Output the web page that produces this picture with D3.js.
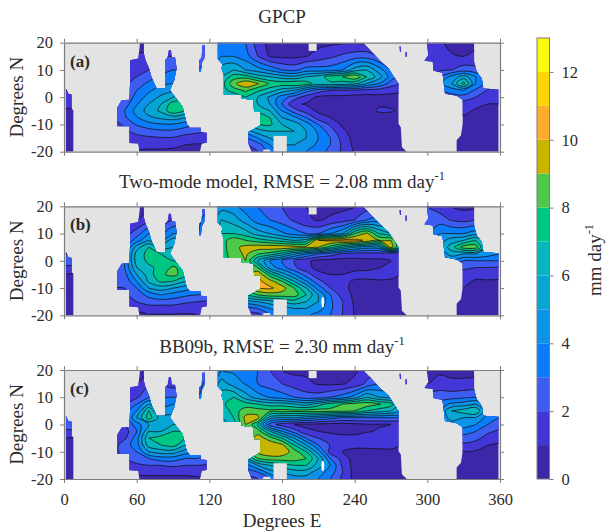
<!DOCTYPE html>
<html>
<head>
<meta charset="utf-8">
<script src="https://cdn.jsdelivr.net/npm/d3@7"></script>
<style>
  body { margin: 0; background: #fff; }
  text { font-family: "Liberation Serif", serif; fill: #2b2b2b; }
</style>
</head>
<body>
<div id="chart"></div>
<script>
'use strict'

// rows of every column below, north to south
var lats = [20, 15, 10, 7.5, 5, 2.5, 0, -2.5, -5, -7.5, -10, -12.5, -15, -17.5, -20];
// one line per longitude, 0 to 360 by 10 degrees
var lons = d3.range(0, 361, 10);

var gpcp = [
  [1, 1, 1, 1, 1.5, 2, 1.8, 1.4, .8, .6, .5, .5, .4, .4, .3],
  [1, 1, 1, 1, 1.5, 2, 1.8, 1.4, .8, .6, .5, .5, .4, .4, .3],
  [1, 1, 1, 1, 1, 1.2, 1.5, 1.5, 1.5, 1.5, 1.2, 1, 1, 1, 1],
  [1, 1, 1, 1, 1, 1.2, 1.5, 1.5, 1.5, 1.5, 1.2, 1, 1, 1, 1],
  [1, 1, 1, 1, 1, 1.2, 1.5, 1.8, 2, 2, 1.5, 1.5, 1.2, 1, 1],
  [.8, 1, 1.4, 1.5, 1.7, 1.9, 2.1, 2.5, 3, 2.8, 2.2, 1.8, 1.5, 1.2, 1],
  [.7, 1.1, 1.7, 2, 2.5, 3, 3.4, 3.9, 4.4, 3.9, 3.1, 2.3, 1.7, 1.3, .9],
  [.6, 1.2, 2, 2.6, 3.2, 3.8, 4.4, 5, 5.4, 4.8, 3.6, 2.6, 1.8, 1.3, .8],
  [1, 2, 2.6, 3.2, 3.8, 4.5, 5.2, 6, 6.2, 5.2, 3.9, 2.8, 1.9, 1.3, .8],
  [1, 2, 3, 3.5, 4, 4.8, 6, 7.5, 7.8, 5.5, 3.9, 2.8, 1.9, 1.2, .8],
  [1, 2, 3, 3.5, 4, 5, 6.5, 7.5, 7, 5, 3.5, 2.4, 1.6, 1, .7],
  [1.5, 2.5, 3, 3.5, 4, 5, 6, 6.5, 6, 4.5, 3, 2.2, 1.5, .9, .7],
  [2.5, 3, 4, 4.5, 5, 5.5, 5.5, 5.5, 5, 4.5, 3, 2, 1.5, 1, .7],
  [3.5, 4, 5.5, 6, 6.5, 6.5, 6, 5.5, 5, 5, 4.5, 4, 3, 2, 1.5],
  [3, 4, 6, 7.5, 8.7, 7.5, 6, 5.5, 5.5, 5.5, 5, 4.5, 3, 2, 1.5],
  [3, 3.5, 5, 7.5, 9.9, 8.2, 7, 6.5, 6.5, 6.5, 5.5, 4.5, 3, 2, 1.5],
  [1.5, 2, 4.5, 6.5, 9.1, 7.2, 6, 6, 6.5, 8, 7, 5.5, 4, 2.5, 2],
  [.7, .9, 3.8, 6, 7.8, 6.5, 4.8, 5, 6, 7, 7.2, 6, 5, 4, 3.5],
  [.6, .8, 3, 5.5, 7.6, 5.5, 3.5, 3, 4, 5, 6, 6, 5.5, 5, 4.5],
  [.7, .8, 2.7, 5.2, 7.9, 5, 2.5, 1.2, 2.5, 4.3, 5.5, 6, 5.5, 5, 4.5],
  [.9, .95, 3.5, 6, 7.5, 3.5, 1.5, .9, 1.5, 3, 4.5, 5, 5, 4.5, 4],
  [.7, 1.4, 3.5, 6.5, 6.5, 2.5, .8, .5, .8, 1.5, 3, 3.8, 4, 3.8, 3.3],
  [.8, 1.8, 3.5, 7.5, 6.8, 2, .7, .5, .6, 1, 1.8, 2.5, 3, 3, 2.8],
  [.9, 2.2, 4, 8, 6.5, 2, .7, .5, .5, .6, .8, 1.2, 1.6, 1.8, 1.8],
  [.9, 2.5, 5.5, 8.9, 6.3, 1.8, .6, .4, .4, .4, .4, .5, .6, .7, .9],
  [1, 2.5, 6, 7, 5, 1.6, .6, .5, .7, .4, .4, .4, .4, .4, .4],
  [1, 2, 4.5, 5.5, 4, 1.5, .7, .9, 1.1, .6, .3, .3, .3, .3, .3],
  [1, 2, 3, 3.5, 2.5, 1.3, .7, .8, 1.1, .5, .3, .3, .3, .3, .3],
  [1, 1.5, 2, 2.5, 2, 1.2, .7, .7, .8, .5, .3, .3, .3, .3, .3],
  [1, 1.5, 2, 2, 2, 1.5, 1, 1, 1, .8, .6, .5, .5, .5, .5],
  [1.5, 1.5, 1.8, 2, 2.5, 2, 1.5, 1.2, 1, .8, .6, .5, .5, .5, .5],
  [1.2, 1.3, 1.8, 3, 4, 3, 2, 1.5, 1.2, .8, .6, .5, .5, .5, .5],
  [.7, 1.1, 2, 4.3, 5, 3.5, 2.5, 1.8, 1.3, .9, .6, .5, .5, .5, .5],
  [.6, 1, 2.5, 5.5, 7.4, 4, 2.5, 1.6, 1.2, .9, .7, .6, .5, .5, .5],
  [.8, 1.2, 2.3, 4, 4, 2.8, 2, 1.2, .9, .6, .5, .5, .5, .5, .5],
  [1, 1.2, 2, 2.5, 2.5, 1.9, 1.5, 1, .7, .5, .5, .5, .5, .5, .5],
  [1, 1.2, 2, 2.5, 2.5, 1.8, 1.4, 1, .7, .5, .5, .5, .5, .5, .5]
];

var twoMode = [
  [2, 2, 2, 2, 2.5, 3, 2.5, 1.8, 1, .6, .5, .5, .4, .4, .3],
  [2, 2, 2, 2, 2.5, 3, 2.5, 1.8, 1, .6, .5, .5, .4, .4, .3],
  [1, 1, 1, 1, 1.5, 2, 2, 2, 2, 2, 2, 1.5, 1, 1, 1],
  [1, 1, 1, 1, 1.5, 2, 2, 2, 2, 2, 2, 1.5, 1, 1, 1],
  [.8, 1, 1.5, 2, 2, 2.5, 2.5, 2.5, 2.5, 2, 2, 1.8, 1.5, 1.2, 1],
  [.8, 1, 1.5, 2, 2.5, 3, 3, 3, 2.6, 2.2, 2, 1.8, 1.6, 1.2, 1],
  [.8, 1, 2.5, 3.5, 5.5, 6.5, 6.5, 6, 5, 4, 3, 2.5, 2, 1.2, .8],
  [1, 1.5, 4, 5, 7, 7.3, 7.2, 6.8, 6.5, 6.2, 5, 3.3, 2.5, 1.5, 1],
  [1, 1.5, 3, 4, 5.5, 7, 7.2, 7.3, 7.8, 7.2, 5.5, 4, 2.5, 1.5, .9],
  [1, 2, 4, 5.5, 6, 6.5, 7, 8.2, 8.3, 7, 5, 3.6, 2.5, 1.5, .9],
  [1.5, 2, 4, 5, 6, 6.5, 7, 7.5, 7.5, 6, 4.5, 3.2, 2.2, 1.3, .9],
  [2, 2.5, 3, 4, 5, 6, 6.5, 6.5, 6.5, 5, 4, 3, 2, 1.2, 1],
  [3, 4, 5, 5.5, 6, 6.5, 6.5, 6.5, 6, 5, 4, 3, 2, 1.5, 1],
  [4.5, 6, 7, 7.5, 7.5, 7.5, 7, 7, 7, 7, 6, 5, 4, 2.5, 1.5],
  [4.3, 5.5, 7, 8.6, 8.7, 8.5, 8.5, 8, 8, 8, 7, 6, 4, 2.5, 1.5],
  [3.5, 4.5, 6.5, 8, 9.3, 9.2, 9, 8.5, 9, 9, 8.5, 7, 4.5, 2.5, 1.5],
  [3, 3.5, 5.5, 7.5, 9.6, 8, 6, 8, 9.8, 10.3, 10, 8, 5, 3, 1.5],
  [2.5, 3, 5, 7, 9.7, 7.5, 4, 4.5, 7.5, 9.4, 10.2, 8.5, 5.5, 4, 3],
  [2, 2.5, 4.2, 6.5, 9.7, 6.5, 3, 3.5, 5.5, 8, 9.5, 8.5, 6, 4.5, 4],
  [1.2, 1.8, 3.6, 6, 9.5, 5, 2, 2.2, 4, 6, 8, 8.5, 6.5, 5, 4.5],
  [1, 1.2, 3, 6.5, 9.4, 4, 1.2, 1.3, 2.5, 4, 6, 7, 6, 5, 4.3],
  [.6, .9, 3, 10, 9, 3, .7, .7, 1.3, 2.3, 3.5, 5, 5, 4.5, 3.5],
  [.6, 1.2, 4, 10.2, 7.5, 2.5, .6, .6, 1, 1.4, 2, 3, 3.2, 3.2, 3],
  [.7, 1.5, 5, 10.4, 6, 1.8, .6, .6, 1, 1.2, 1.2, 1.5, 2, 2, 2],
  [.9, 2, 8, 10.4, 5, 1.5, .7, .7, 1.3, .9, .8, .8, .8, .9, .9],
  [1.5, 3, 9.2, 9.8, 4.5, 1.5, .8, .85, 1.2, .9, .7, .6, .6, .6, .6],
  [1.5, 3.5, 7, 9, 4.5, 1.5, .8, .95, 1.4, .9, .6, .5, .5, .5, .5],
  [1.5, 3, 6, 9, 9.5, 1, 1, 1.3, 1.2, .9, .6, .5, .5, .5, .5],
  [1, 2, 4, 6, 6, 1, 1, 1.2, 1, .8, .6, .5, .5, .5, .5],
  [1, 2, 3, 3.5, 4, 2, 1.5, 1.2, 1, .8, .6, .5, .5, .5, .5],
  [2, 2.5, 3, 3.5, 4, 3, 2, 1.5, 1, .8, .6, .5, .5, .5, .5],
  [1.5, 2.5, 4, 4.5, 5, 4, 3, 2, 1.2, .9, .6, .5, .5, .5, .5],
  [1, 1.9, 4, 5.5, 6.5, 5.5, 4, 2.5, 1.5, 1.1, .8, .6, .5, .5, .5],
  [.7, 1.7, 4, 6, 8.5, 5, 3, 2.2, 1.5, 1.2, 1, .8, .6, .5, .5],
  [.8, 2, 4.5, 7, 8.5, 5, 3, 2, 1.3, .9, .7, .6, .5, .5, .5],
  [1, 2, 4, 5, 5, 4.5, 3, 2, 1.4, .9, .7, .5, .5, .5, .5],
  [1, 2, 4, 4.5, 4.5, 4, 3, 1.9, 1.3, .9, .7, .5, .5, .5, .5]
];

var bb09b = [
  [2, 2, 2, 2, 2.5, 2.8, 2.5, 1.8, 1, .6, .5, .5, .4, .4, .3],
  [2, 2, 2, 2, 2.5, 2.8, 2.5, 1.8, 1, .6, .5, .5, .4, .4, .3],
  [1, 1, 1, 1, 1.5, 1.5, 1.5, 1.5, 1.5, 1.5, 1.5, 1.5, 1, 1, 1],
  [1, 1, 1, 1, 1.5, 1.5, 1.5, 1.5, 1.5, 1.5, 1.5, 1.5, 1, 1, 1],
  [.8, 1, 1.5, 1.5, 2, 2, 1.5, 1.5, 1.5, 1.5, 1.5, 1.5, 1.2, 1, 1],
  [.8, 1, 1.5, 2, 2.5, 2.5, 2, 1.5, 1.8, 2.5, 2.5, 2, 1.5, 1.2, 1],
  [.7, 1, 1.8, 3, 4, 5, 3.5, 3, 3.5, 3.5, 3, 2.5, 1.8, 1.2, .8],
  [.8, 1.8, 3, 5, 7, 7.5, 5, 6, 7, 6.5, 5, 3, 2, 1.2, .8],
  [1, 2, 3, 3.5, 4.5, 5.5, 5.5, 6, 7.5, 7, 5.5, 3.5, 2, 1.2, .8],
  [1.2, 1.5, 3, 4, 4.5, 5.5, 6, 7, 8, 7.5, 5.5, 3.5, 2.2, 1.2, .8],
  [1.5, 2, 3, 4, 5, 5.5, 6, 7, 7, 6, 4.5, 3, 2, 1.2, .8],
  [2, 2.5, 3, 4, 5, 5.5, 6, 6, 6, 5, 4, 3, 2, 1.2, .9],
  [3, 3.5, 4.5, 5, 5.5, 6, 6, 5.5, 5, 4.5, 3.5, 2.5, 2, 1.5, 1],
  [4, 5.5, 6.5, 6.5, 6, 6, 5.5, 5.5, 5.5, 5.5, 5, 4.5, 3.5, 2.5, 1.5],
  [3.8, 4.5, 7, 8, 7.5, 7, 6.5, 6.5, 6.5, 6.5, 6, 5, 3.5, 2.5, 1.5],
  [3.5, 3.9, 5.5, 7.5, 8.5, 9.3, 9, 8.5, 8, 7.5, 7, 5.5, 3.5, 2.5, 1.5],
  [3, 3, 4.5, 7, 8.5, 9.3, 7, 8.5, 9.5, 9.8, 9.3, 8, 5, 3, 2],
  [2, 2.5, 3.9, 6.5, 8.3, 5.5, 2.5, 6, 8.5, 9.7, 9.8, 8.5, 6, 4.5, 3],
  [1, 2, 3.5, 6.5, 8.4, 5, 1.5, 4, 7, 9.2, 9.7, 8.5, 6.5, 5, 4],
  [.7, 1.5, 3, 6, 8.3, 5, 1, 2.5, 5, 7, 8.5, 8.5, 7, 5.5, 4.5],
  [.8, 1.2, 2.5, 5.5, 8.4, 4.5, .8, 1.2, 3, 5, 7, 8, 7, 5.5, 4.5],
  [.6, .9, 2.5, 6.5, 8.5, 4, .7, 1, 2, 3, 4.5, 6, 5.5, 4.5, 4],
  [.5, .8, 3, 7.5, 8.3, 3.5, .6, .8, 1.5, 1.9, 1.5, 3, 4, 3.5, 3],
  [.6, .9, 3.5, 8, 8.3, 3, .6, .7, 1.3, 1.5, 1, 1.5, 1.8, 2, 1.8],
  [.8, 1.3, 4.5, 8.4, 8, 3, .7, .7, 1.3, 1.2, .8, .6, .6, .6, .7],
  [1.5, 2.2, 6, 8.6, 7, 3, .9, .9, 1.5, 1.3, .7, .6, .6, .6, .6],
  [1.5, 3, 5, 8.1, 6.5, 3, .9, 1.1, 1.6, 1.4, .7, .5, .5, .5, .5],
  [1.5, 3, 4.5, 7.5, 6, 3, 1, 1.3, 1.5, 1.4, .7, .5, .5, .5, .5],
  [1, 2, 3.5, 5, 5, 3, 1, 1.2, 1.3, 1, .7, .5, .5, .5, .5],
  [.8, 1.5, 2.5, 3, 3.5, 3, 2, 1.5, 1, .8, .6, .5, .5, .5, .5],
  [.8, 1, 2.5, 3, 3.5, 3.5, 3, 2, 1, .8, .6, .5, .5, .5, .5],
  [.7, 1.5, 2.5, 3.5, 4, 4, 3.5, 2.5, 1.5, .9, .6, .5, .5, .5, .5],
  [.7, 1.2, 2.6, 4.2, 6, 5.5, 4.5, 3.5, 2, 1.2, .7, .5, .5, .5, .5],
  [.7, 1.2, 2.8, 4.5, 6.5, 5, 4.5, 3.5, 2.5, 1.8, 1, .6, .5, .5, .5],
  [.7, 1.3, 3, 5, 7, 5, 4, 3, 2.3, 1.5, .9, .6, .5, .5, .5],
  [1, 1.5, 3, 4, 4, 3.5, 3, 2.2, 1.6, 1, .7, .5, .5, .5, .5],
  [1, 1.5, 3, 3.5, 3.5, 3, 2.5, 1.8, 1.3, .9, .7, .5, .5, .5, .5]
];

// ocean outlines as [lon, lat], everything else is masked grey
var oceans = [
  [[1.6, 3.2], [3.6, 1.3], [6.3, 1], [6.3, -4.2], [7.7, -4.8], [7.7, -20], [1.6, -20]],
  [[62.8, 20], [66, 20], [66, 16], [67.4, 13.6], [70.2, 10.6], [72.4, 7.2], [76.5, 3.2], [83.4, 3.2], [83.4, 13.6],
    [85.6, 14.6], [86.6, 17.3], [88.3, 17.3], [89, 14.6], [91.7, 14.6], [93, 10.6], [91, 6.2], [87.5, 2.6], [93, -.7],
    [98, -3.6], [101.3, -9.7], [104, -11.2], [113, -11.2], [113, -12.8], [117.8, -13], [117.8, -16.7], [113.7, -17],
    [112.3, -20], [62.2, -20], [61.4, -17], [54, -16.8], [54, -10.7], [44, -10.7], [44, -3.8], [47.6, -1.1], [54, -.9],
    [54.5, 5], [54.5, 13.6], [61.4, 14.2]],
  [[114.2, 19], [116.4, 19], [115.9, 14.4], [113.7, 12.5], [113.1, 9.4], [111.7, 9.4], [111.7, 13.6], [113.7, 14.6]],
  [[127, 20], [247.2, 19.8], [252.7, 17.3], [261, 13.4], [267.9, 10.6], [273.4, 6.9], [276.2, 5], [276.2, -9.7],
    [278.1, -11], [279, -18.3], [283, -20], [155, -20], [152.2, -17], [152, -12.8], [162, -10.3], [162, -5.4], [157, -5.4],
    [156.3, -1], [146.7, -.5], [146.7, 1], [132, 1], [132, 8], [130, 10.6], [131, 12], [127, 14]],
  [[277, 18.6], [278, 18.6], [278.4, 16.8], [277.4, 16.8]],
  [[282, 16.6], [283, 16.6], [283, 14.8], [282, 14.8]],
  [[299.5, 20], [300.8, 15.5], [297.6, 13.4], [304.5, 13], [305, 9.7], [312.5, 9], [314.6, 1.3], [324.2, .5], [329.2, -1],
    [329.2, -9.7], [327.8, -14], [324.2, -15.8], [324.2, -20], [358.7, -20], [358.7, 2.8], [346.3, 3.2], [345, 6.9],
    [340.8, 9.3], [338.6, 13], [338.6, 20]]
];
// land inside the pacific outline
var islands = [
  [[202, 20], [208.6, 20], [208.6, 17], [202, 17]],
  [[173, -20], [173, -14.2], [184, -14.2], [184, -20]],
  [[164, -20], [165, -19.2], [169.5, -19.2], [171, -20]]
];
var whiteSpot = [[213, -13.4], [214.4, -13.4], [215, -15], [214.4, -17], [213, -17], [212.4, -15]];

var levelColors = ['#3e26a8', '#4237d6', '#3c5cf2', '#0a7cfa', '#0a93e8', '#06a6d4', '#05b7bc', '#00c684',
  '#4fc94a', '#c8b500', '#feae2a', '#fdd500', '#f9fb0e'];
var levels = d3.range(1, 13);

var panels = [
  { id: '(a)', grid: gpcp, top: 42.7, title: 'GPCP', base: 22.5, sup: false, spot: false },
  { id: '(b)', grid: twoMode, top: 206.3, title: 'Two-mode model, RMSE = 2.08 mm day', base: 188, sup: true, spot: true },
  { id: '(c)', grid: bb09b, top: 370, title: 'BB09b, RMSE = 2.30 mm day', base: 353, sup: true, spot: true }
];

var PANEL_H = 109;
var axisColor = '#7d7d7d';
var LABEL_SIZE = 19;
var TICK_SIZE = 16.5;

var svg = d3.select('#chart').append('svg').attr('width', 606).attr('height', 532);

var x = d3.scaleLinear().domain([0, 360]).range([64, 500]);

// grid gets one extra line on every side so the contour rings close outside the clip
var padLons = [-10].concat(lons, [370]);
var padLats = [22.5].concat(lats, [-22.5]);
var colOf = d3.scaleLinear().domain(d3.range(padLons.length)).range(padLons);
var rowOf = d3.scaleLinear().domain(d3.range(padLats.length)).range(padLats);

function flatten(grid) {
  var out = [];
  for (var j = -1; j <= lats.length; j++) {
    for (var i = -1; i <= lons.length; i++) {
      var ci = Math.max(0, Math.min(lons.length - 1, i));
      var cj = Math.max(0, Math.min(lats.length - 1, j));
      out.push(grid[ci][cj]);
    }
  }
  return out;
}

panels.forEach(function (p, idx) {
  var y = d3.scaleLinear().domain([20, -20]).range([p.top, p.top + PANEL_H]);
  var g = svg.append('g');
  var outline = d3.line().x(function (d) { return x(d[0]); }).y(function (d) { return y(d[1]); });
  var smooth = d3.line()
    .x(function (d) { return x(colOf(d[0] - .5)); })
    .y(function (d) { return y(rowOf(d[1] - .5)); })
    .curve(d3.curveCatmullRomClosed.alpha(.5));

  var clipId = 'ocean' + idx;
  g.append('clipPath').attr('id', clipId).append('path')
    .attr('d', oceans.map(function (o) { return outline(o) + 'Z'; }).join(''));

  g.append('rect')
    .attr('x', x(0)).attr('y', p.top)
    .attr('width', x(360) - x(0)).attr('height', PANEL_H)
    .attr('fill', '#e3e3e3');

  var field = g.append('g').attr('clip-path', 'url(#' + clipId + ')');
  field.append('rect')
    .attr('x', x(0)).attr('y', p.top)
    .attr('width', x(360) - x(0)).attr('height', PANEL_H)
    .attr('fill', levelColors[0]);

  var contours = d3.contours()
    .size([padLons.length, padLats.length])
    .thresholds(levels)(flatten(p.grid));

  field.selectAll('path.band')
    .data(contours)
    .enter()
    .append('path')
    .attr('class', 'band')
    .attr('fill-rule', 'evenodd')
    .attr('fill', function (d) { return levelColors[d.value]; })
    .attr('stroke', '#111')
    .attr('stroke-width', .75)
    .attr('d', function (d) {
      var path = '';
      d.coordinates.forEach(function (poly) {
        poly.forEach(function (ring) {
          if (ring.length > 3) path += smooth(ring.slice(0, -1));
        });
      });
      return path;
    });

  g.selectAll('path.island')
    .data(islands)
    .enter()
    .append('path')
    .attr('class', 'island')
    .attr('fill', '#e3e3e3')
    .attr('d', function (d) { return outline(d) + 'Z'; });

  if (p.spot) {
    g.append('path').attr('fill', '#fff').attr('d', outline(whiteSpot) + 'Z');
  }

  // frame and ticks
  var xticks = d3.range(0, 361, 60);
  var yticks = [20, 10, 0, -10, -20];
  var isLast = idx === panels.length - 1;

  var axes = [
    d3.axisTop(x).tickValues(xticks).tickFormat('').tickSize(4),
    d3.axisBottom(x).tickValues(xticks).tickFormat(isLast ? String : '').tickSize(4).tickPadding(10),
    d3.axisLeft(y).tickValues(yticks).tickFormat(String).tickSize(4).tickPadding(7),
    d3.axisRight(y).tickValues(yticks).tickFormat('').tickSize(4)
  ];
  var shifts = [[0, p.top], [0, p.top + PANEL_H], [x(0), 0], [x(360), 0]];
  axes.forEach(function (ax, k) {
    var a = g.append('g').attr('transform', 'translate(' + shifts[k] + ')').call(ax.tickSizeOuter(0));
    a.selectAll('.domain').attr('stroke', axisColor).attr('stroke-width', 1.2);
    a.selectAll('line').attr('stroke', axisColor);
    a.selectAll('text').attr('font-size', TICK_SIZE).attr('font-family', '"Liberation Serif", serif').attr('fill', '#2b2b2b');
  });

  g.append('text')
    .attr('x', 70).attr('y', p.top + 24)
    .attr('font-size', 17).attr('font-weight', 'bold')
    .text(p.id);

  g.append('text')
    .attr('transform', 'translate(23,' + (p.top + PANEL_H / 2) + ') rotate(-90)')
    .attr('text-anchor', 'middle')
    .attr('font-size', LABEL_SIZE)
    .text('Degrees N');

  var title = g.append('text')
    .attr('x', 282).attr('y', p.base)
    .attr('text-anchor', 'middle')
    .attr('font-size', LABEL_SIZE)
    .text(p.title);
  if (p.sup) {
    title.append('tspan').attr('dy', -8).attr('font-size', 12.5).text('-1');
  }
});

svg.append('text')
  .attr('x', 282).attr('y', 527)
  .attr('text-anchor', 'middle')
  .attr('font-size', LABEL_SIZE)
  .text('Degrees E');

// colorbar
var barY = d3.scaleLinear().domain([0, 13]).range([479, 38]);
svg.selectAll('rect.level')
  .data(levelColors)
  .enter()
  .append('rect')
  .attr('class', 'level')
  .attr('x', 537).attr('width', 12.5)
  .attr('y', function (d, i) { return barY(i + 1); })
  .attr('height', function (d, i) { return barY(i) - barY(i + 1); })
  .attr('fill', function (d) { return d; });

svg.append('rect')
  .attr('x', 537).attr('y', barY(13))
  .attr('width', 12.5).attr('height', barY(0) - barY(13))
  .attr('fill', 'none').attr('stroke', axisColor);

var barAxis = svg.append('g')
  .attr('transform', 'translate(549.5,0)')
  .call(d3.axisRight(barY).tickValues(d3.range(0, 13, 2)).tickFormat(String).tickSize(4).tickPadding(8).tickSizeOuter(0));
barAxis.select('.domain').remove();
barAxis.selectAll('line').attr('stroke', axisColor);
barAxis.selectAll('text').attr('font-size', TICK_SIZE).attr('font-family', '"Liberation Serif", serif').attr('fill', '#2b2b2b');

var unit = svg.append('text')
  .attr('transform', 'translate(601,260) rotate(-90)')
  .attr('text-anchor', 'middle')
  .attr('font-size', LABEL_SIZE)
  .text('mm day');
unit.append('tspan').attr('dy', -8).attr('font-size', 12.5).text('-1');
</script>
</body>
</html>
